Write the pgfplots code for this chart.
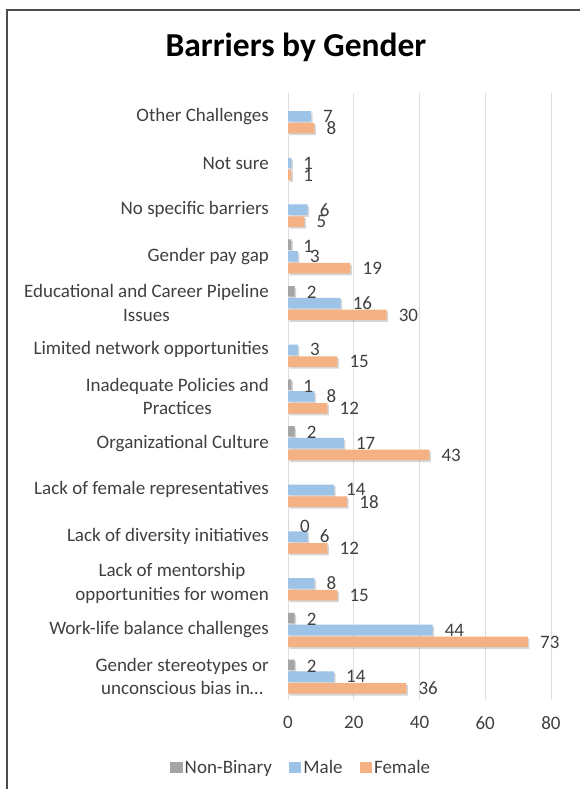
\documentclass[border=0pt]{standalone}
\usepackage{fontspec}
\setmainfont{Carlito}
\usepackage{pgfplots}
\pgfplotsset{compat=1.18}
\definecolor{cNB}{HTML}{A5A5A5}
\definecolor{cM}{HTML}{9DC3E6}
\definecolor{cF}{HTML}{F4B183}
\definecolor{txt}{HTML}{404040}
\pgfplotstableread{
y F M
0 36 14
1 73 44
2 15 8
3 12 6
4 18 14
5 43 17
6 12 8
7 15 3
8 30 16
9 19 3
10 5 6
11 1 1
12 8 7
}\mf
\pgfplotstableread{
y N
0 2
1 2
3 0
5 2
6 1
8 2
9 1
}\nb
\begin{document}
\begin{tikzpicture}
\useasboundingbox (0,0) rectangle (579pt,789pt);
\fill[white] (0,0) rectangle (579pt,789pt);
\begin{axis}[
  at={(288pt,89pt)}, anchor=south west,
  scale only axis, width=263pt, height=607pt,
  xmin=0, xmax=80, ymin=-0.5, ymax=12.5,
  xtick={0,20,40,60,80},
  ytick={0,...,12},
  yticklabels={{Gender stereotypes or\\unconscious bias in…},
    {Work-life balance challenges},
    {Lack of mentorship\\opportunities for women},
    {Lack of diversity initiatives},
    {Lack of female representatives},
    {Organizational Culture},
    {Inadequate Policies and\\Practices},
    {Limited network opportunities},
    {Educational and Career Pipeline\\Issues},
    {Gender pay gap},
    {No specific barriers},
    {Not sure},
    {Other Challenges}},
  xmajorgrids, major grid style={draw=black!13, line width=0.9pt},
  axis line style={draw=none},
  tick style={draw=none},
  /pgf/number format/assume math mode=true,
  yticklabel style={align=center, inner sep=0pt, text=txt,
    font=\fontsize{19}{23.5}\selectfont},
  xticklabel style={inner sep=0pt, text=txt, font=\fontsize{19}{19}\selectfont},
  yticklabel shift=19pt,
  xticklabel shift=16pt,
  bar width=10.5pt,
  point meta=x,
  lbl/.style={nodes near coords,
    every node near coord/.append style={anchor=west, inner sep=0pt, xshift=12pt,
    yshift=#1, text=txt, font=\fontsize{19}{19}\selectfont}},
  shd/.style={xbar, draw=none, fill=black, fill opacity=0.16, forget plot,
    xshift=1.5pt, yshift=-1.8pt},
  legend style={at={(axis description cs:0.05,-0.112)}, anchor=center,
    draw=none, fill=none, legend columns=-1, text=txt,
    font=\fontsize{19}{19}\selectfont,
    /tikz/every even column/.append style={column sep=15pt}},
  legend image code/.code={\fill[#1,draw=none] (0pt,-5.5pt) rectangle (12.5pt,5.5pt);},
]
% shadows
\addplot[shd, bar shift=-11.8pt] table[x=F, y=y] {\mf};
\addplot[shd, bar shift=0pt] table[x=M, y=y] {\mf};
\addplot[shd, bar shift=11.8pt] table[x=N, y=y] {\nb};
% bars
\addplot[xbar, bar shift=-11.8pt, fill=cF, draw=none, lbl=-12pt, forget plot] table[x=F, y=y] {\mf};
\addplot[xbar, bar shift=0pt, fill=cM, draw=none, lbl=0pt, forget plot] table[x=M, y=y] {\mf};
\addplot[xbar, bar shift=11.8pt, fill=cNB, draw=none, lbl=10.5pt, forget plot] table[x=N, y=y] {\nb};
\addlegendimage{fill=cNB, draw=none}
\addlegendentry{Non-Binary}
\addlegendimage{fill=cM, draw=none}
\addlegendentry{Male}
\addlegendimage{fill=cF, draw=none}
\addlegendentry{Female}
\end{axis}
\node[anchor=base, text=black, font=\fontsize{33.5}{33.5}\selectfont\bfseries] at (296pt,732pt) {Barriers by Gender};
\draw[line width=1.6pt, draw=black!70] (7pt,0pt) -- (7pt,779pt) -- (580pt,779pt);
\end{tikzpicture}
\end{document}
